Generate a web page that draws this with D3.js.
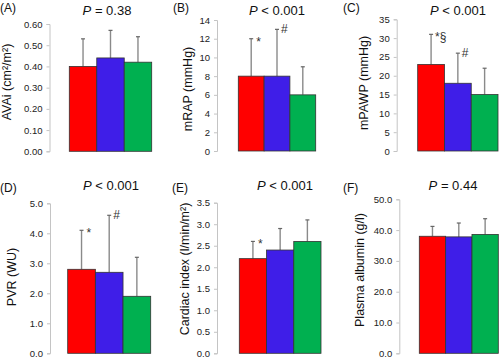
<!DOCTYPE html>
<html><head><meta charset="utf-8">
<script src="https://cdn.jsdelivr.net/npm/d3@7"></script>
<style>body{margin:0;background:#fff}svg{display:block;font-family:"Liberation Sans",Arial,sans-serif}</style>
</head><body><svg id="c" width="500" height="359"></svg>
<script>
// ---- data ----
const groups = ["Group 1", "Group 2", "Group 3"];
const panelLetters = ["(A)", "(B)", "(C)", "(D)", "(E)", "(F)"];
const pTexts = ["= 0.38", "< 0.001", "< 0.001", "< 0.001", "< 0.001", "= 0.44"];
const yTitles = ["AVAi (cm²/m²)", "mRAP (mmHg)", "mPAWP (mmHg)", "PVR (WU)", "Cardiac index (l/min/m²)", "Plasma albumin (g/l)"];
const avaiMean = [0.40, 0.44, 0.42], avaiSD = [0.13, 0.13, 0.12];
const mrapMean = [8, 8, 6], mrapSD = [4, 5, 3];
const mpawpMean = [23, 18, 15], mpawpSD = [8, 8, 7];
const pvrMean = [2.8, 2.7, 1.9], pvrSD = [1.3, 1.9, 1.3];
const ciMean = [2.2, 2.4, 2.6], ciSD = [0.4, 0.5, 0.5];
const albMean = [38.0, 37.8, 38.6], albSD = [3.2, 4.5, 5.1];
const yMaxes = [0.6, 14, 35, 5, 3.5, 50];
const yTickSteps = [0.1, 2, 5, 1, 0.5, 10];
const yTickFormats = [".2f", "d", "d", ".1f", ".1f", ".1f"];
const annotA = ["", "", ""], annotB = ["*", "#", ""], annotC = ["*§", "#", ""];
const annotD = ["*", "#", ""], annotE = ["*", "", ""], annotF = ["", "", ""];

const means = [avaiMean, mrapMean, mpawpMean, pvrMean, ciMean, albMean];
const sds = [avaiSD, mrapSD, mpawpSD, pvrSD, ciSD, albSD];
const annots = [annotA, annotB, annotC, annotD, annotE, annotF];
const colors = ["#ff0000", "#3f1ee8", "#00b050"];

// ---- layout ----
const layout = [
  {ax: 49.5, top: 24, bot: 151.3, bl: 69.3, br: 151.7, lx: 0, ly: 12, px: 107, py: 15, tx: 11, ty: 82},
  {ax: 217, top: 20, bot: 151, bl: 238.3, br: 315.7, lx: 173, ly: 12, px: 277, py: 15, tx: 192, ty: 89},
  {ax: 396.7, top: 19.3, bot: 151, bl: 417.7, br: 498, lx: 343, ly: 12, px: 458, py: 15, tx: 368, ty: 83},
  {ax: 50, top: 203.3, bot: 353.3, bl: 67.7, br: 150.7, lx: 0, ly: 192, px: 111, py: 190, tx: 16, ty: 277},
  {ax: 217, top: 202.7, bot: 353.3, bl: 239.3, br: 321, lx: 172, ly: 192, px: 285, py: 190, tx: 189, ty: 269},
  {ax: 399.3, top: 199.3, bot: 353.3, bl: 419.3, br: 498.3, lx: 343, ly: 192, px: 453, py: 190, tx: 364, ty: 270}
];

const svg = d3.select("#c");

layout.forEach((L, i) => {
  const g = svg.append("g");
  const y = d3.scaleLinear().domain([0, yMaxes[i]]).range([L.bot, L.top]);
  const x = d3.scaleBand().domain(groups).range([L.bl, L.br]).padding(0);
  const ticks = d3.range(0, yMaxes[i] + yTickSteps[i] / 2, yTickSteps[i]);

  const axis = d3.axisLeft(y).tickValues(ticks).tickFormat(d3.format(yTickFormats[i])).tickSize(3).tickPadding(4);
  const ag = g.append("g").attr("transform", `translate(${L.ax},0)`).call(axis);
  ag.select(".domain").attr("stroke", "#c4c4c4").attr("stroke-width", 1);
  ag.selectAll(".tick line").attr("stroke", "#c4c4c4");
  ag.selectAll(".tick text").attr("fill", "#222").style("font-size", "9.5px").style("font-family", "Liberation Sans, Arial, sans-serif");

  const data = groups.map((gname, k) => ({g: gname, m: means[i][k], s: sds[i][k], a: annots[i][k], c: colors[k]}));

  // error bars
  g.selectAll(".err").data(data).join("line")
    .attr("x1", d => x(d.g) + x.bandwidth() / 2).attr("x2", d => x(d.g) + x.bandwidth() / 2)
    .attr("y1", d => y(d.m)).attr("y2", d => y(d.m + d.s))
    .attr("stroke", "#8a8a8a").attr("stroke-width", 1.4);
  g.selectAll(".cap").data(data).join("line")
    .attr("x1", d => x(d.g) + x.bandwidth() / 2 - 2).attr("x2", d => x(d.g) + x.bandwidth() / 2 + 2)
    .attr("y1", d => y(d.m + d.s)).attr("y2", d => y(d.m + d.s))
    .attr("stroke", "#666").attr("stroke-width", 1.2);

  // bars
  g.selectAll(".bar").data(data).join("rect")
    .attr("x", d => x(d.g)).attr("width", x.bandwidth())
    .attr("y", d => y(d.m)).attr("height", d => y(0) - y(d.m))
    .attr("fill", d => d.c).attr("stroke", "#333").attr("stroke-width", 0.8);

  // annotations
  g.selectAll(".ann").data(data.filter(d => d.a)).join("text")
    .attr("x", d => x(d.g) + x.bandwidth() / 2 + (d.a === "*" ? 5 : 4))
    .attr("y", d => y(d.m + d.s) + (d.a === "#" ? 4 : 7))
    .attr("fill", "#333").style("font-size", "12px")
    .text(d => d.a);

  // panel letter
  g.append("text").attr("x", L.lx).attr("y", L.ly).style("font-size", "12px").attr("fill", "#111").text(panelLetters[i]);
  // P title
  const pt = g.append("text").attr("x", L.px).attr("y", L.py).attr("text-anchor", "middle").style("font-size", "13px").attr("fill", "#111");
  pt.append("tspan").style("font-style", "italic").text("P");
  pt.append("tspan").text(" " + pTexts[i]);
  // y title
  g.append("text").attr("transform", `translate(${L.tx},${L.ty}) rotate(-90)`).attr("text-anchor", "middle")
    .style("font-size", "12.5px").attr("fill", "#111").text(yTitles[i]);
});
</script></body></html>
